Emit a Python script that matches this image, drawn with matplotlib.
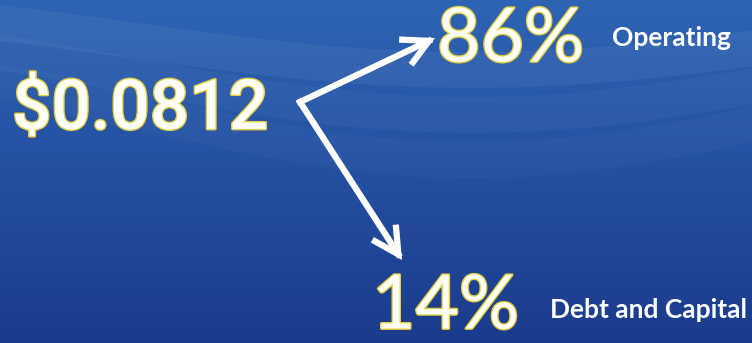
import matplotlib.pyplot as plt
import matplotlib.patheffects as pe
import numpy as np

# cost per unit and how it splits
total_cost = "$0.0812"
shares = [86, 14]
share_labels = ["Operating", "Debt and Capital"]

W, H = 752, 343
fig = plt.figure(figsize=(W / 100, H / 100), dpi=100)
ax = fig.add_axes([0, 0, 1, 1])
ax.set_xlim(0, W)
ax.set_ylim(H, 0)
ax.axis("off")

# blue background, lighter toward the top
top = np.array([0x2e, 0x64, 0xb4]) / 255
bot = np.array([0x1b, 0x3b, 0x8c]) / 255
t = np.linspace(0, 1, 200)[:, None]
grad = top * (1 - t) + bot * t
grad = np.repeat(grad[:, None, :], 2, axis=1)
ax.imshow(grad, extent=[0, W, H, 0], aspect="auto", zorder=0)

# faint swoosh bands near the top
xs = np.linspace(0, W, 300)
for y0, amp, a in [(40, 30, 0.05), (75, 40, 0.035), (110, 50, 0.025)]:
    yc = y0 + amp * np.sin((xs / W) * np.pi * 1.1 - 0.6)
    ax.fill_between(xs, yc - 18, yc + 18, color="white", alpha=a, linewidth=0, zorder=1)

gold = [pe.withStroke(linewidth=2.0, foreground="#e8cf3a")]

ax.text(12, 110, total_cost, fontsize=50, family="Roboto", weight="medium",
        color="white", ha="left", va="center", path_effects=gold, zorder=3)

# arrows from the total to each share
vx, vy = 300, 102
tips = [(435, 38), (402, 260)]
for tx, ty in tips:
    ax.annotate("", xy=(tx, ty), xytext=(vx, vy),
                arrowprops=dict(arrowstyle="->,head_length=1.7,head_width=0.9",
                                color="white", lw=4.5, shrinkA=0, shrinkB=0,
                                joinstyle="miter", capstyle="projecting"),
                zorder=3)

pct_pos = [(437, 40), (372, 307)]
lab_pos = [(612, 38), (550, 310)]
for v, lab, (px, py), (lx, ly) in zip(shares, share_labels, pct_pos, lab_pos):
    ax.text(px, py, f"{v}%", fontsize=54, family="Lato", weight="normal",
            color="white", ha="left", va="center", path_effects=gold, zorder=3)
    ax.text(lx, ly, lab, fontsize=19, family="Lato", weight="bold",
            color="white", ha="left", va="center", zorder=3)

fig.savefig("out.png", dpi=100)
